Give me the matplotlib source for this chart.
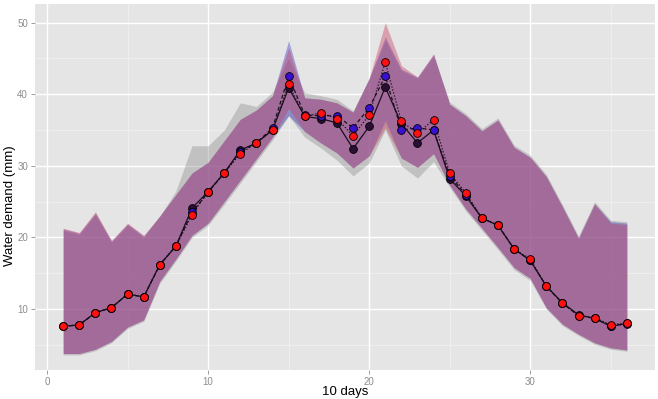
import numpy as np
import matplotlib
matplotlib.use("Agg")
import matplotlib.pyplot as plt

plt.rcParams['font.family'] = ['Liberation Sans', 'DejaVu Sans']

# 10-day periods
days = np.arange(1, 37)

# mean water demand (mm) for the three series
dark_mean = [7.6, 7.8, 9.5, 10.2, 12.1, 11.7, 16.2, 18.8, 24.1, 26.4, 29.0, 32.2,
             33.2, 35.0, 40.9, 36.9, 36.6, 36.0, 32.4, 35.5, 41.0, 35.9, 33.2, 35.0,
             28.2, 25.8, 22.7, 21.7, 18.4, 16.8, 13.2, 10.9, 9.2, 8.7, 7.6, 8.0]
blue_mean = [7.6, 7.8, 9.5, 10.2, 12.1, 11.7, 16.2, 18.8, 23.5, 26.3, 29.0, 32.0,
             33.2, 35.3, 42.5, 37.1, 37.0, 37.0, 35.3, 38.1, 42.5, 35.0, 35.3, 35.0,
             28.6, 26.0, 22.7, 21.7, 18.4, 16.8, 13.2, 10.8, 9.1, 8.7, 7.7, 7.9]
red_mean = [7.6, 7.8, 9.5, 10.2, 12.1, 11.7, 16.2, 18.8, 23.2, 26.4, 29.0, 31.7,
            33.2, 35.0, 41.4, 36.9, 37.4, 36.6, 34.2, 37.1, 44.5, 36.2, 34.6, 36.4,
            29.0, 26.2, 22.7, 21.7, 18.4, 17.0, 13.2, 10.8, 9.1, 8.8, 7.8, 8.1]

# ribbon bounds
grey_lo = [3.6, 3.6, 4.2, 5.3, 7.3, 8.3, 13.6, 16.7, 20.0, 21.7, 24.6, 27.6,
           30.6, 33.6, 37.0, 34.0, 32.5, 30.8, 28.6, 30.4, 35.0, 30.0, 28.3, 30.6,
           27.0, 23.7, 21.0, 18.3, 15.5, 14.0, 10.0, 7.7, 6.3, 5.1, 4.4, 4.1]
grey_hi = [21.0, 20.4, 23.2, 19.3, 21.7, 20.0, 23.0, 26.5, 32.8, 32.8, 35.0, 38.8,
           38.3, 40.3, 45.0, 40.2, 39.8, 39.3, 37.7, 42.2, 47.5, 43.3, 42.2, 45.3,
           38.9, 37.3, 35.2, 36.7, 32.9, 31.5, 28.8, 24.6, 20.2, 25.0, 22.4, 22.2]
blue_lo = [3.8, 3.8, 4.4, 5.5, 7.5, 8.5, 13.9, 17.0, 20.3, 22.0, 25.0, 28.0,
           31.0, 34.0, 37.0, 34.8, 33.2, 31.8, 29.7, 31.4, 36.3, 31.1, 29.8, 31.7,
           27.3, 24.0, 21.3, 18.6, 15.8, 14.3, 10.2, 7.9, 6.5, 5.3, 4.6, 4.3]
blue_hi = [21.2, 20.6, 23.4, 19.5, 21.9, 20.2, 23.0, 26.0, 29.0, 30.5, 33.5, 36.5,
           37.8, 39.8, 47.5, 39.5, 39.3, 38.8, 37.5, 42.2, 48.0, 43.5, 42.4, 45.6,
           38.6, 37.0, 34.9, 36.4, 32.6, 31.2, 28.5, 24.3, 19.9, 24.7, 22.2, 22.0]
red_lo = [3.8, 3.8, 4.4, 5.5, 7.5, 8.5, 13.9, 17.0, 20.3, 22.0, 25.0, 28.0,
          31.0, 34.0, 38.0, 34.8, 33.2, 31.8, 29.7, 31.4, 35.3, 31.1, 29.8, 31.7,
          27.3, 24.0, 21.3, 18.6, 15.8, 14.3, 10.2, 7.9, 6.5, 5.3, 4.6, 4.3]
red_hi = [21.3, 20.7, 23.6, 19.6, 22.0, 20.3, 23.0, 26.0, 29.0, 30.5, 33.5, 36.5,
          37.8, 39.8, 46.5, 39.5, 39.3, 38.8, 37.5, 42.2, 50.0, 44.0, 42.4, 45.6,
          38.6, 37.0, 34.9, 36.4, 32.6, 31.2, 28.5, 24.3, 19.9, 24.7, 22.0, 21.8]

x_ticks = [0, 10, 20, 30]
y_ticks = [10, 20, 30, 40, 50]

fig = plt.figure(figsize=(6.58, 3.99), dpi=100)
ax = fig.add_axes([35 / 658, 1 - 370 / 399, 620 / 658, 366 / 399])
ax.set_facecolor('#e5e5e5')

# grid
for v in [5, 15, 25, 35]:
    ax.axvline(v, color='#f0f0f0', lw=0.6, zorder=0)
for v in [5, 15, 25, 35, 45]:
    ax.axhline(v, color='#f0f0f0', lw=0.6, zorder=0)
for v in x_ticks:
    ax.axvline(v, color='white', lw=1.0, zorder=0)
for v in y_ticks:
    ax.axhline(v, color='white', lw=1.0, zorder=0)

# ribbons
ax.fill_between(days, grey_lo, grey_hi, color='#8c8c8c', alpha=0.4, lw=0, zorder=1)
ax.fill_between(days, blue_lo, blue_hi, color='#3c3cc8', alpha=0.4, lw=0, zorder=2)
ax.fill_between(days, red_lo, red_hi, color='#c83c5a', alpha=0.4, lw=0, zorder=3)

# lines
ax.plot(days, dark_mean, color='#1a0f1f', lw=0.9, ls='-', zorder=4)
ax.plot(days, blue_mean, color='#1a0f1f', lw=0.9, ls=(0, (3, 2)), zorder=4)
ax.plot(days, red_mean, color='#1a0f1f', lw=0.9, ls=(0, (1, 1.5)), zorder=4)

# points
ms = 5.6
ax.plot(days, dark_mean, 'o', ms=ms, mfc='#2a0f35', mec='black', mew=0.6, zorder=5)
ax.plot(days, blue_mean, 'o', ms=ms, mfc='#3a10d0', mec='black', mew=0.6, zorder=6)
ax.plot(days, red_mean, 'o', ms=ms, mfc='#ff1010', mec='black', mew=0.6, zorder=7)

ax.set_xlim(-0.75, 37.75)
ax.set_ylim(1.5, 52.6)
ax.set_xticks(x_ticks)
ax.set_yticks(y_ticks)
for s in ax.spines.values():
    s.set_visible(False)
ax.tick_params(colors='#8c8c8c', labelsize=7, length=3, width=0.6, pad=2)

fig.text(345 / 658, 1 - 392 / 399, '10 days', ha='center', va='center', fontsize=9.5)
fig.text(10 / 658, 1 - 206 / 399, 'Water demand (mm)', ha='center', va='center',
         rotation=90, fontsize=9.5)

fig.savefig('out.png', dpi=100)
